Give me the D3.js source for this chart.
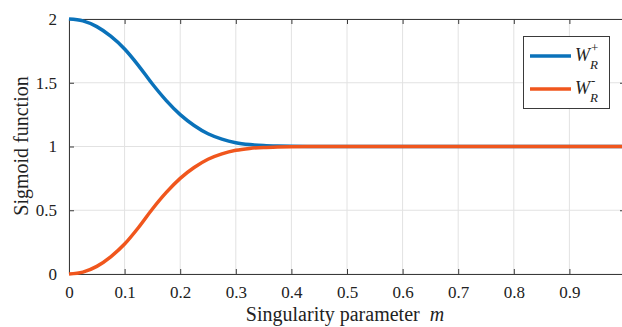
<!DOCTYPE html>
<html><head><meta charset="utf-8">
<script src="https://cdn.jsdelivr.net/npm/d3@7"></script>
<style>body{margin:0;background:#fff}svg{display:block}</style>
</head><body>
<svg id="c" width="622" height="327" font-family="Liberation Serif"></svg>
<script>
const mValues = [0,0.025,0.05,0.075,0.1,0.125,0.15,0.175,0.2,0.225,0.25,0.275,0.3,0.325,0.35,0.375,0.4,0.45,0.5,0.6,0.7,0.8,0.9,1.0];
const wPlus  = [2.000,1.985,1.940,1.865,1.765,1.635,1.490,1.360,1.250,1.165,1.100,1.058,1.030,1.015,1.007,1.003,1.001,1.000,1.000,1.000,1.000,1.000,1.000,1.000];
const wMinus = [0.000,0.015,0.060,0.135,0.235,0.365,0.510,0.640,0.750,0.835,0.900,0.942,0.970,0.985,0.993,0.997,0.999,1.000,1.000,1.000,1.000,1.000,1.000,1.000];
const xTicks = [0,0.1,0.2,0.3,0.4,0.5,0.6,0.7,0.8,0.9,1];
const yTicks = [0,0.5,1,1.5,2];
const xTickLabels = ["0","0.1","0.2","0.3","0.4","0.5","0.6","0.7","0.8","0.9",""];
const yTickLabels = ["0","0.5","1","1.5","2"];

const svg = d3.select("#c");
const L=69,R=625,T=19,B=274;
const x = d3.scaleLinear().domain([0,1]).range([L,R]);
const y = d3.scaleLinear().domain([0,2]).range([B,T]);
const font = "Liberation Serif";

// grid
svg.append("g").selectAll("line").data(xTicks).join("line")
  .attr("x1",d=>x(d)).attr("x2",d=>x(d)).attr("y1",T).attr("y2",B)
  .attr("stroke","#e2e2e2").attr("stroke-width",1);
svg.append("g").selectAll("line").data(yTicks).join("line")
  .attr("x1",L).attr("x2",R).attr("y1",d=>y(d)).attr("y2",d=>y(d))
  .attr("stroke","#e2e2e2").attr("stroke-width",1);

// axes
const axB = d3.axisBottom(x).tickValues(xTicks).tickFormat((d,i)=>xTickLabels[i]).tickSizeInner(-5).tickSizeOuter(0).tickPadding(12);
const gB = svg.append("g").attr("transform",`translate(0,${B})`).call(axB);
const axT = d3.axisTop(x).tickValues(xTicks).tickFormat("").tickSizeInner(-5).tickSizeOuter(0);
const gT = svg.append("g").attr("transform",`translate(0,${T})`).call(axT);
const axL = d3.axisLeft(y).tickValues(yTicks).tickFormat((d,i)=>yTickLabels[i]).tickSizeInner(-5).tickSizeOuter(0).tickPadding(12);
const gL = svg.append("g").attr("transform",`translate(${L},0)`).call(axL);
const axR = d3.axisRight(y).tickValues(yTicks).tickFormat("").tickSizeInner(-5).tickSizeOuter(0);
const gR = svg.append("g").attr("transform",`translate(${R},0)`).call(axR);
[gB,gT,gL,gR].forEach(g=>{
  g.attr("font-family",font).attr("font-size",17);
  g.selectAll("path,line").attr("stroke","#3a3a3a").attr("stroke-width",1);
  g.selectAll("text").attr("font-family",font).attr("font-size",17).attr("fill","#222");
});

// lines
const line = d3.line().x((d,i)=>x(mValues[i])).y(d=>y(d)).curve(d3.curveMonotoneX);
svg.append("path").datum(wPlus).attr("d",line).attr("fill","none").attr("stroke","#0A72BA").attr("stroke-width",3.5);
svg.append("path").datum(wMinus).attr("d",line).attr("fill","none").attr("stroke","#F0561D").attr("stroke-width",3.5);

// axis titles
const xt = svg.append("text").attr("x",345).attr("y",321).attr("text-anchor","middle")
  .attr("font-family",font).attr("font-size",20).attr("fill","#222");
xt.append("tspan").text("Singularity parameter\u00a0\u00a0");
xt.append("tspan").attr("font-style","italic").text("m");
svg.append("text").attr("transform","translate(28,146) rotate(-90)").attr("text-anchor","middle")
  .attr("font-family",font).attr("font-size",20).attr("fill","#222").text("Sigmoid function");

// legend
const lg = svg.append("g");
lg.append("rect").attr("x",523.5).attr("y",36.5).attr("width",86).attr("height",72)
  .attr("fill","#fff").attr("stroke","#3a3a3a").attr("stroke-width",1);
const legItems = [{c:"#0A72BA",sup:"+",yy:56},{c:"#F0561D",sup:"-",yy:89}];
legItems.forEach(it=>{
  lg.append("line").attr("x1",530).attr("x2",571).attr("y1",it.yy).attr("y2",it.yy)
    .attr("stroke",it.c).attr("stroke-width",3.5);
  lg.append("text").attr("x",575).attr("y",it.yy+5).attr("font-family",font).attr("font-size",18)
    .attr("font-style","italic").attr("fill","#222").text("W");
  lg.append("text").attr("x",591).attr("y",it.yy-4).attr("font-family",font).attr("font-size",13)
    .attr("fill","#222").text(it.sup);
  lg.append("text").attr("x",590).attr("y",it.yy+13).attr("font-family",font).attr("font-size",13)
    .attr("font-style","italic").attr("fill","#222").text("R");
});
</script>
</body></html>
